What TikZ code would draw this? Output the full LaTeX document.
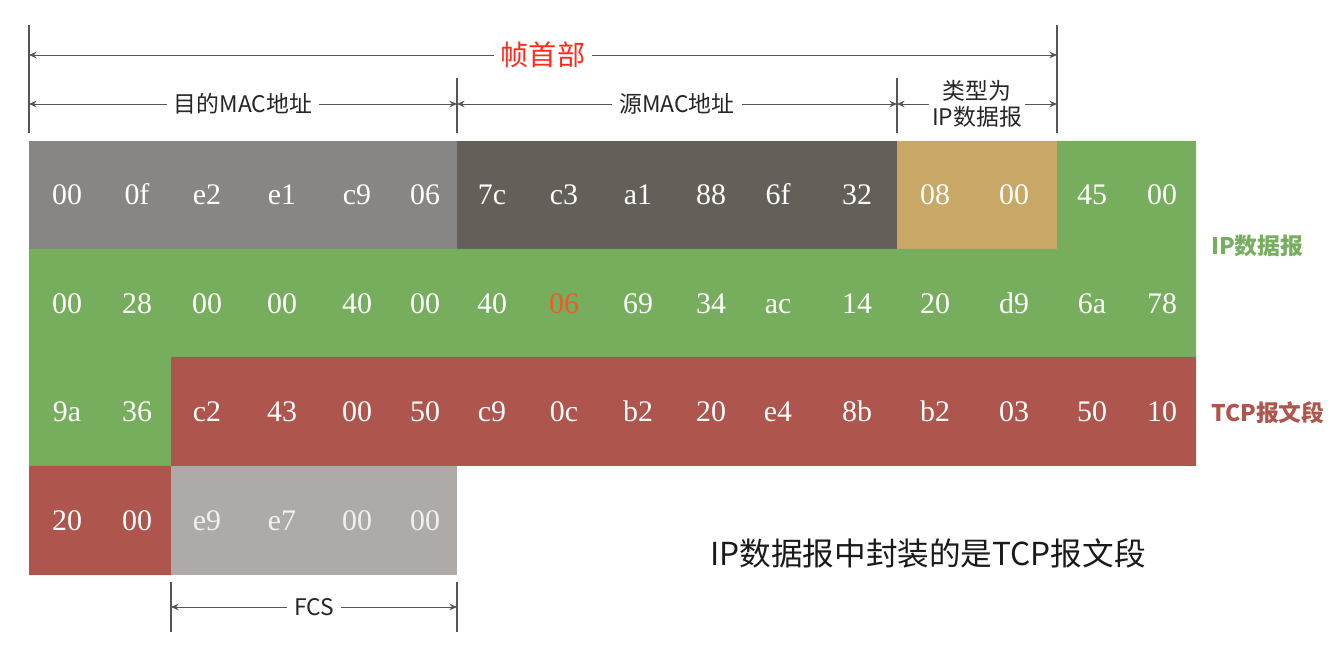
\documentclass[tikz,border=0pt]{standalone}
\usepackage{fontspec}
\usepackage{xcolor}
\usepackage{tikz}
\usetikzlibrary{arrows.meta,positioning}
\newfontfamily\cjk{Noto Sans CJK SC}
\newfontfamily\hexfont{Liberation Serif}
\definecolor{dstc}{HTML}{878685}
\definecolor{srcc}{HTML}{655F5A}
\definecolor{typc}{HTML}{C9A766}
\definecolor{ipc}{HTML}{76AE5D}
\definecolor{tcpc}{HTML}{AE554D}
\definecolor{fcsc}{HTML}{AEAAA8}
\definecolor{fcstxt}{HTML}{F2F0EF}
\definecolor{linec}{HTML}{555555}
\definecolor{hdrred}{HTML}{FF2A1A}
\definecolor{protc}{HTML}{EE5A2C}
\tikzset{
  dim/.style={{Stealth[length=1.5mm,width=1.3mm]}-{Stealth[length=1.5mm,width=1.3mm]},linec,line width=0.5pt},
  tick/.style={linec,line width=0.6pt},
  lbl/.style={fill=white,text=black!85,inner sep=4pt,font=\cjk\fontsize{13}{15}\selectfont},
  hexn/.style={text=white,inner sep=1pt,anchor=base,font=\hexfont\fontsize{17}{17}\selectfont}
}

\begin{document}
\begin{tikzpicture}[x=0.02cm,y=-0.02cm]
\useasboundingbox (0,0) rectangle (1336,648);
% field blocks
\fill[dstc] (29,141) rectangle (457,249);
\fill[srcc] (457,141) rectangle (897,249);
\fill[typc] (897,141) rectangle (1057,249);
\fill[ipc] (1057,141) -- (1196,141) -- (1196,357) -- (171,357) -- (171,466)
  -- (29,466) -- (29,249) -- (1057,249) -- cycle;
\fill[tcpc] (171,357) -- (1196,357) -- (1196,466) -- (171,466) -- (171,575)
  -- (29,575) -- (29,466) -- (171,466) -- cycle;
\fill[fcsc] (171,466) rectangle (457,575);
% bytes
\foreach \h/\x [count=\i] in {00/67,0f/137,e2/207,e1/282,c9/357,06/425,7c/492,c3/564,
  a1/638,88/711,6f/778,32/857,08/935,00/1014,45/1092,00/1162}
  \node[hexn] (ra\i) at (\x,205) {\h};
\foreach \h/\x/\c [count=\i] in {00/67/white,28/137/white,00/207/white,00/282/white,
  40/357/white,00/425/white,40/492/white,06/564/protc,69/638/white,34/711/white,
  ac/778/white,14/857/white,20/935/white,d9/1014/white,6a/1092/white,78/1162/white}
  \node[hexn,text=\c] (rb\i) at (\x,314) {\h};
\foreach \h/\x [count=\i] in {9a/67,36/137,c2/207,43/282,00/357,50/425,c9/492,0c/564,
  b2/638,20/711,e4/778,8b/857,b2/935,03/1014,50/1092,10/1162}
  \node[hexn] (rc\i) at (\x,422) {\h};
\foreach \h/\x/\c [count=\i] in {20/67/white,00/137/white,e9/207/fcstxt,e7/282/fcstxt,
  00/357/fcstxt,00/425/fcstxt}
  \node[hexn,text=\c] (rd\i) at (\x,531) {\h};
% ticks
\coordinate (t0a) at (29,25);   \coordinate (t0b) at (29,133);
\coordinate (t1a) at (457,78);  \coordinate (t1b) at (457,133);
\coordinate (t2a) at (897,78);  \coordinate (t2b) at (897,133);
\coordinate (t3a) at (1057,25); \coordinate (t3b) at (1057,133);
\coordinate (f0a) at (171,582); \coordinate (f0b) at (171,632);
\coordinate (f1a) at (457,582); \coordinate (f1b) at (457,632);
\foreach \t in {t0,t1,t2,t3,f0,f1}
  \draw[tick] (\t a) -- (\t b);
% dimension lines
\coordinate (hdrL) at (29,55);  \coordinate (hdrR) at (1057,55);
\coordinate (dstL) at (29,104); \coordinate (dstR) at (457,104);
\coordinate (srcL) at (457,104); \coordinate (srcR) at (897,104);
\coordinate (typL) at (897,104); \coordinate (typR) at (1057,104);
\coordinate (fcsL) at (171,607); \coordinate (fcsR) at (457,607);
\draw[dim] (hdrL) -- (hdrR) node[lbl,midway,text=hdrred,font=\cjk\fontsize{16}{18}\selectfont] (hdr) {帧首部};
\draw[dim] (dstL) -- (dstR) node[lbl,midway] (dst) {目的MAC地址};
\draw[dim] (srcL) -- (srcR) node[lbl,midway] (src) {源MAC地址};
\draw[dim] (typL) -- (typR) node[lbl,midway,align=center,inner sep=2pt,
  font=\cjk\fontsize{13}{14.5}\selectfont] (typ) {类型为\\IP数据报};
\draw[dim] (fcsL) -- (fcsR) node[lbl,midway] (fcs) {FCS};
% side labels
\node[font=\cjk\bfseries\fontsize{13}{15}\selectfont,text=ipc,anchor=west] (iplbl) at (1205,246) {IP数据报};
\node[font=\cjk\bfseries\fontsize{13}{15}\selectfont,text=tcpc,anchor=west] (tcplbl) at (1205,413) {TCP报文段};
\node[font=\cjk\fontsize{18}{20}\selectfont,text=black!90] (note) at (928,553) {IP数据报中封装的是TCP报文段};
\end{tikzpicture}
\end{document}
